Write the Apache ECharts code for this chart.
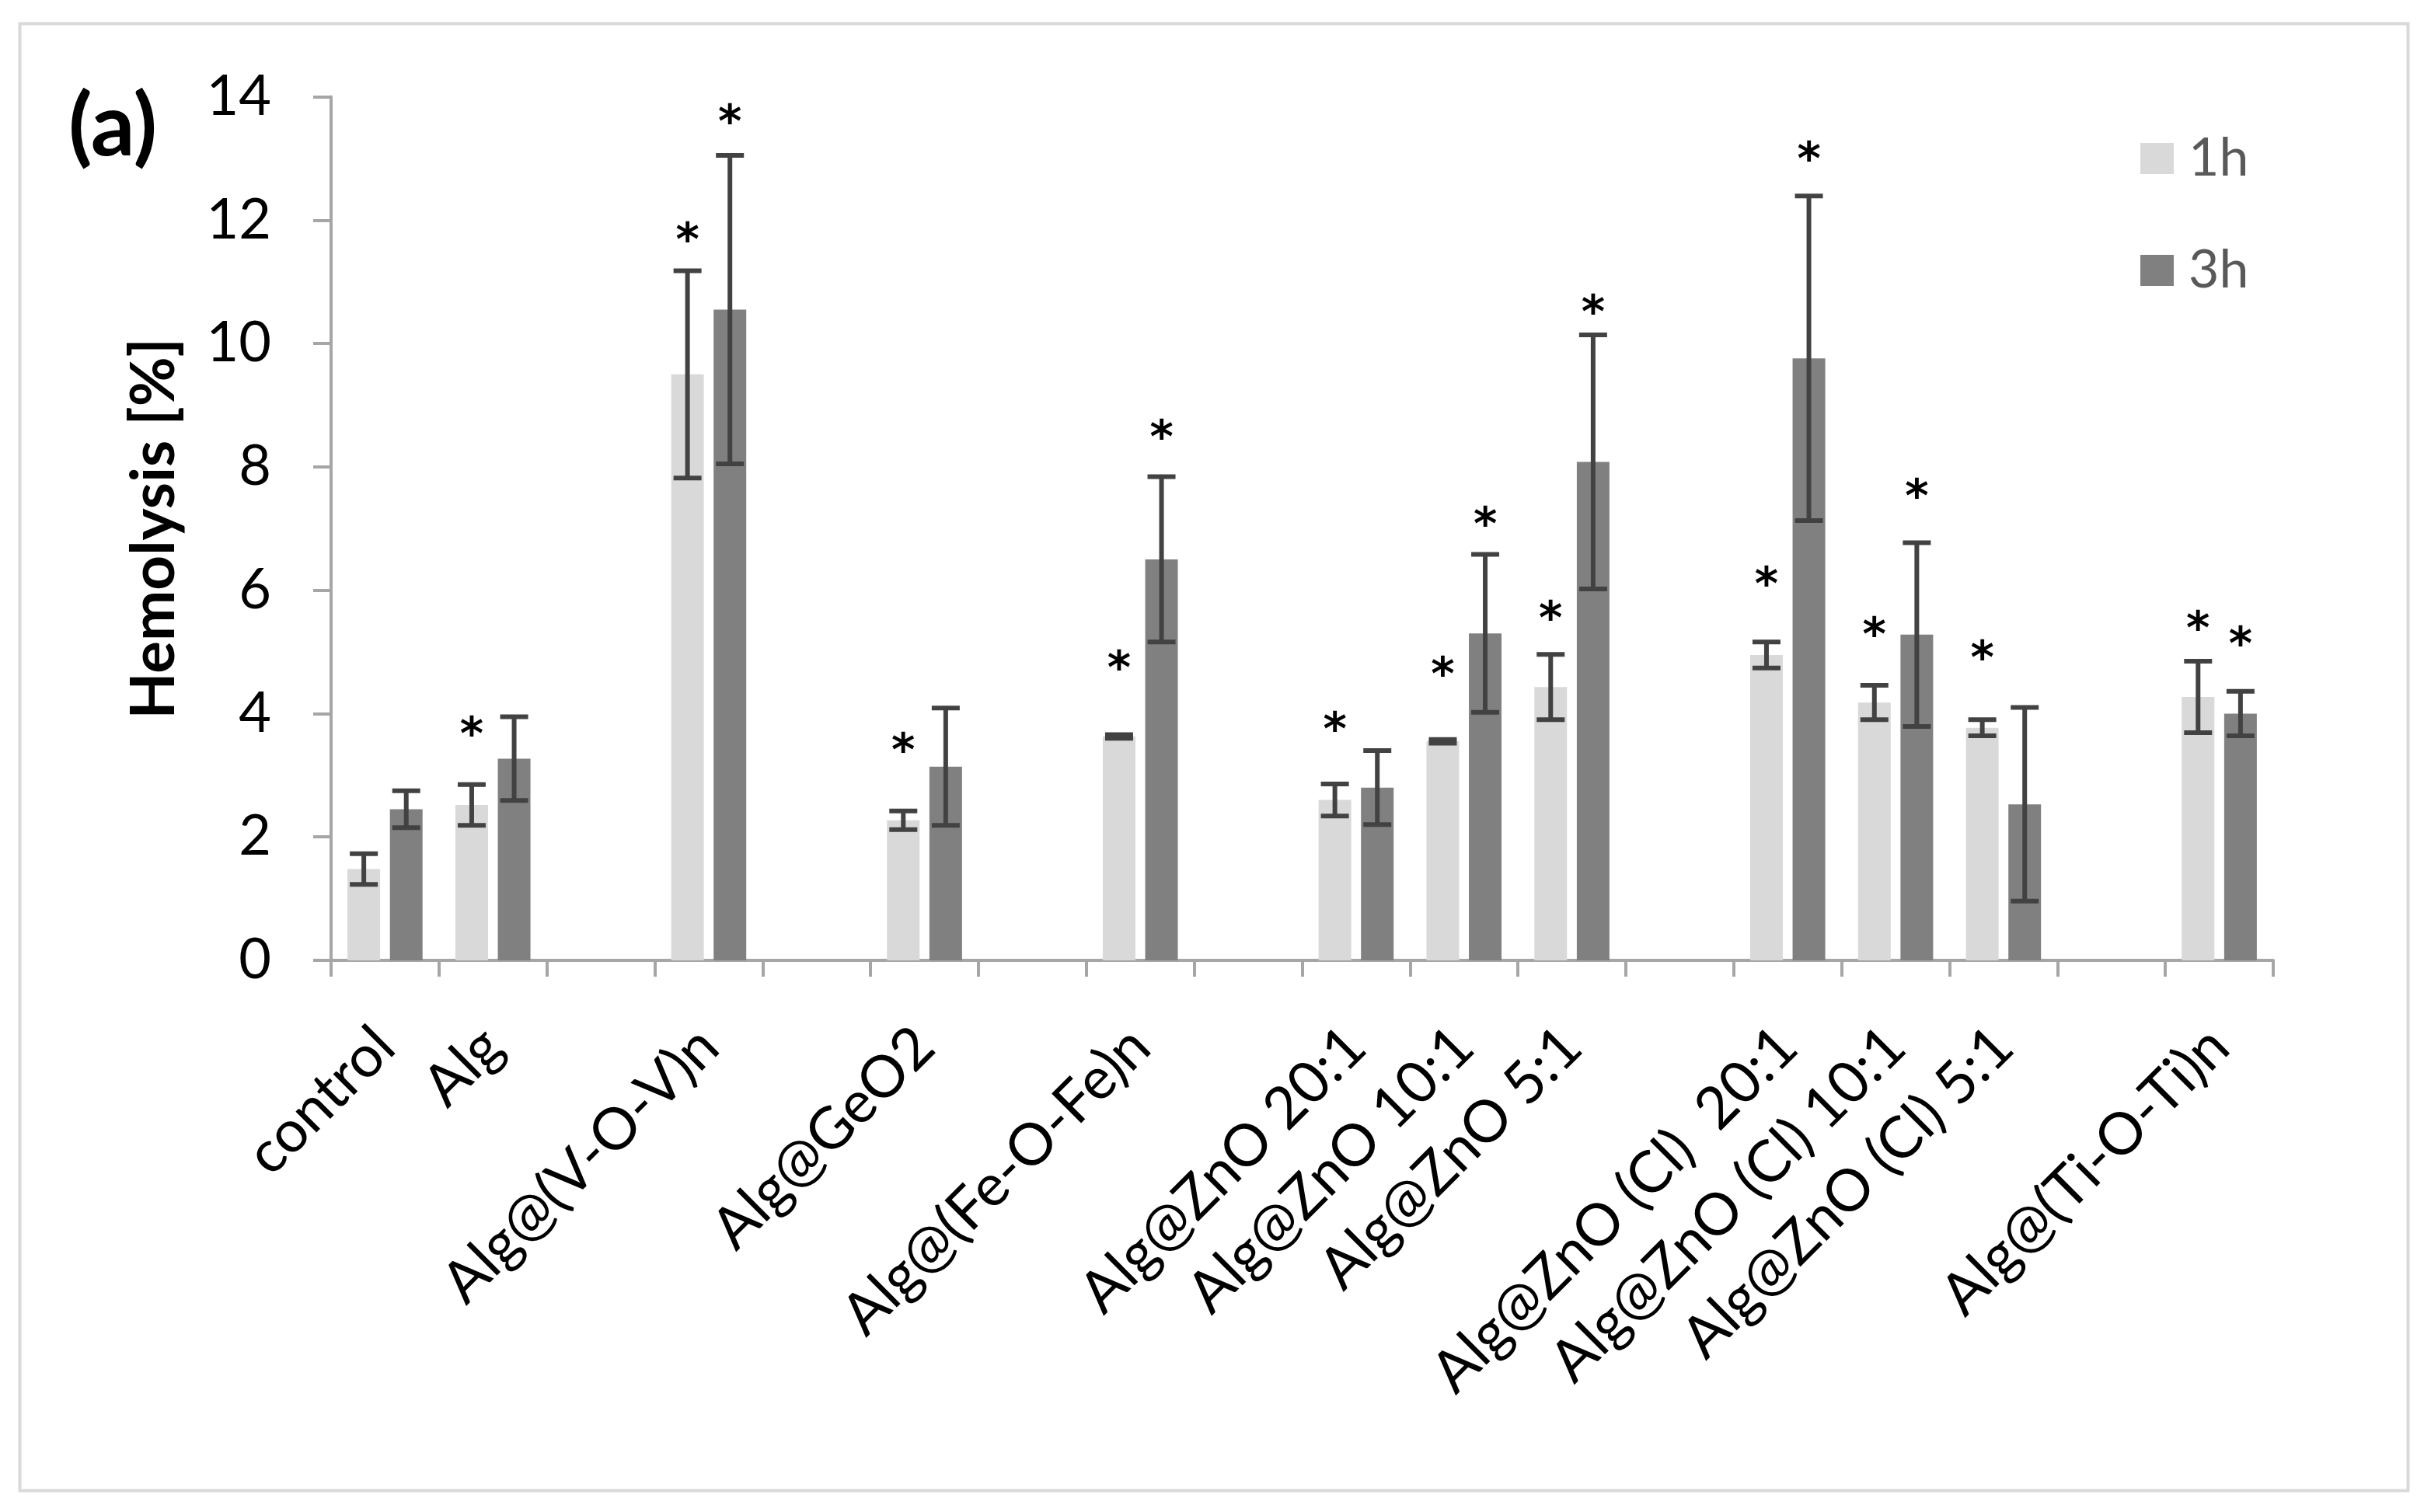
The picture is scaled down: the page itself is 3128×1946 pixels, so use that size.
<!DOCTYPE html>
<html>
<head>
<meta charset="utf-8">
<script src="https://cdn.jsdelivr.net/npm/echarts@6/dist/echarts.min.js"></script>
<style>
html,body{margin:0;padding:0;background:#fff;}
#chart{width:3128px;height:1946px;}
</style>
</head>
<body>
<div id="chart"></div>
<script>
const categories = ['control','Alg','','Alg@(V-O-V)n','','Alg@GeO2','','Alg@(Fe-O-Fe)n','','Alg@ZnO 20:1','Alg@ZnO 10:1','Alg@ZnO 5:1','','Alg@ZnO (Cl)  20:1','Alg@ZnO (Cl) 10:1','Alg@ZnO (Cl) 5:1','','Alg@(Ti-O-Ti)n'];
const seriesNames = ['1h','3h'];
const mean1h = [1.48, 2.52, null, 9.5, null, 2.27, null, 3.63, null, 2.6, 3.55, 4.43, null, 4.95, 4.18, 3.77, null, 4.27];
const err1h  = [0.25, 0.33, null, 1.68, null, 0.15, null, 0.03, null, 0.26, 0.03, 0.53, null, 0.21, 0.28, 0.13, null, 0.58];
const mean3h = [2.45, 3.27, null, 10.55, null, 3.14, null, 6.5, null, 2.8, 5.3, 8.08, null, 9.76, 5.28, 2.53, null, 4.0];
const err3h  = [0.3, 0.68, null, 2.5, null, 0.95, null, 1.34, null, 0.6, 1.28, 2.06, null, 2.63, 1.49, 1.57, null, 0.36];
// level (in %) at which the significance asterisk is drawn; null = no asterisk
const star1h = [null, 3.80, null, 11.82, null, 3.54, null, 4.88, null, 3.88, 4.78, 5.68, null, 6.23, 5.42, 5.04, null, 5.52];
const star3h = [null, null, null, 13.73, null, null, null, 8.61, null, null, 7.21, 10.64, null, 13.13, 7.66, null, null, 5.27];
const yTicks = {min: 0, max: 14, interval: 2};

const FONT = 'Lato';
const BAR_W = 42, BAR_GAP = 0.3;
const colors = ['#d9d9d9', '#808080'];

function barData(m){ return m.map(v => v == null ? '-' : v); }
function errData(m, e, s){
  const out = [];
  m.forEach((v, i) => { if (v != null) out.push([i, v - e[i], v + e[i], s[i] == null ? -1 : s[i]]); });
  return out;
}
function errSeries(m, e, s, side){
  return {
    type: 'custom', z: 5, silent: true, clip: false,
    data: errData(m, e, s),
    encode: {x: 0, y: [1, 2]},
    renderItem: function(params, api){
      const i = api.value(0), lo = api.value(1), hi = api.value(2), st = api.value(3);
      const off = side * (BAR_W + BAR_W * BAR_GAP) / 2;
      const pLo = api.coord([i, lo]), pHi = api.coord([i, hi]);
      const x = pLo[0] + off, cap = 18;
      const st0 = {stroke: '#424242', lineWidth: 6};
      const ch = [
        {type: 'line', shape: {x1: x, y1: pLo[1], x2: x, y2: pHi[1]}, style: st0},
        {type: 'line', shape: {x1: x - cap, y1: pLo[1], x2: x + cap, y2: pLo[1]}, style: st0},
        {type: 'line', shape: {x1: x - cap, y1: pHi[1], x2: x + cap, y2: pHi[1]}, style: st0}
      ];
      if (st >= 0) {
        const ps = api.coord([i, st]);
        ch.push({type: 'text', style: {text: '*', x: x, y: ps[1] + 15, fill: '#000', font: 'bold 58px "DejaVu Sans"', textAlign: 'center', textVerticalAlign: 'middle'}});
      }
      return {type: 'group', children: ch};
    }
  };
}

const chart = echarts.init(document.getElementById('chart'), null, {renderer: 'canvas'});
chart.setOption({
  animation: false,
  backgroundColor: '#fff',
  graphic: [
    {type: 'rect', left: 23, top: 28, shape: {width: 3073, height: 1888}, style: {fill: 'none', stroke: '#d9d9d9', lineWidth: 4}, z: -1},
    {type: 'text', left: 88, top: 108, style: {text: '(a)', font: 'bold 112px ' + FONT, fill: '#000'}}
  ],
  legend: {
    data: seriesNames, orient: 'vertical', left: 2749, top: 165,
    itemWidth: 43, itemHeight: 40, itemGap: 76, icon: 'rect',
    textStyle: {fontFamily: FONT, fontSize: 68, color: '#595959', lineHeight: 40, padding: [0, 0, 0, 14]}
  },
  grid: {left: 426, right: 203, top: 124.5, bottom: 710, containLabel: false},
  xAxis: {
    type: 'category', data: categories,
    axisLine: {lineStyle: {color: '#a6a6a6', width: 4}},
    axisTick: {show: true, length: 21, lineStyle: {color: '#a6a6a6', width: 4}},
    axisLabel: {interval: 0, rotate: 45, margin: 99, fontFamily: FONT, fontSize: 75, color: '#000', align: 'right', verticalAlign: 'middle'},
    splitLine: {show: false}
  },
  yAxis: {
    type: 'value', min: yTicks.min, max: yTicks.max, interval: yTicks.interval,
    name: 'Hemolysis [%]', nameLocation: 'middle', nameGap: 188,
    nameTextStyle: {fontFamily: FONT, fontSize: 78, fontWeight: 'bold', color: '#000'},
    axisLine: {show: true, lineStyle: {color: '#a6a6a6', width: 4}},
    axisTick: {show: true, length: 23, lineStyle: {color: '#a6a6a6', width: 4}},
    axisLabel: {margin: 77, fontFamily: FONT, fontSize: 72, color: '#000'},
    splitLine: {show: false}
  },
  series: [
    {name: seriesNames[0], type: 'bar', data: barData(mean1h), barWidth: BAR_W, barGap: (BAR_GAP * 100) + '%', itemStyle: {color: colors[0]}},
    {name: seriesNames[1], type: 'bar', data: barData(mean3h), barWidth: BAR_W, barGap: (BAR_GAP * 100) + '%', itemStyle: {color: colors[1]}},
    errSeries(mean1h, err1h, star1h, -1),
    errSeries(mean3h, err3h, star3h, 1)
  ]
});
</script>
</body>
</html>
